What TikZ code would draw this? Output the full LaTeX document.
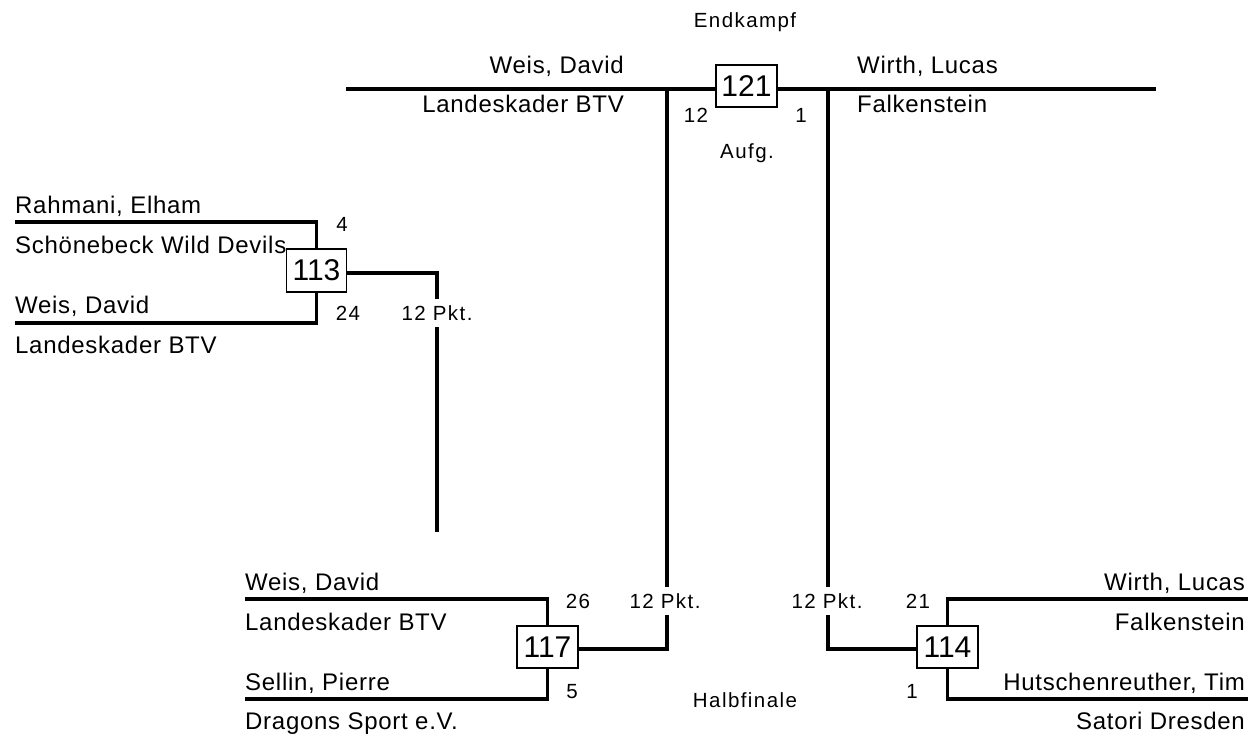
\documentclass[tikz,border=0pt]{standalone}
\usepackage{fontspec}
\setmainfont{Liberation Sans}
\newfontfamily\namefont[LetterSpace=3]{Liberation Sans}
\newfontfamily\smallfont[LetterSpace=7]{Liberation Sans}
\begin{document}
\begin{tikzpicture}[x=1pt,y=-1pt,
 wire/.style={line width=3.5pt},
 mbox/.style={draw, line width=1.1pt, fill=white, minimum width=61pt, minimum height=42pt, inner sep=0pt, font=\fontsize{30}{34}\selectfont},
 nm/.style={inner sep=0pt, font=\namefont\fontsize{24}{28}\selectfont},
 sm/.style={inner sep=0pt, font=\smallfont\fontsize{20.5}{24}\selectfont, anchor=base},
 gaplabel/.style={sm, text height=14pt, text depth=0pt, inner ysep=7pt}]
\useasboundingbox (0,0) rectangle (1252,738);

% ---------- final ----------
\node[sm] (endk) at (745,28) {Endkampf};
\coordinate (tl) at (346,89);
\coordinate (tr) at (1156,89);
\draw[wire] (tl) -- (tr);
\node[nm, anchor=base east] (fn1) at (624,74) {Weis, David};
\node[nm, anchor=base east] (fc1) at (624,113) {Landeskader BTV};
\node[nm, anchor=base west] (fn2) at (857,74) {Wirth, Lucas};
\node[nm, anchor=base west] (fc2) at (857,113) {Falkenstein};
\node[sm] (fs1) at (696,123) {12};
\node[sm] (fs2) at (801,123) {1};
\node[sm] (aufg) at (747,159) {Aufg.};

% ---------- 113 ----------
\coordinate (a1) at (15,222);
\coordinate (a2) at (15,323);
\node[nm, anchor=base west] (an1) at (15,214) {Rahmani, Elham};
\node[nm, anchor=base west] (ac1) at (15,253) {Schönebeck Wild Devils};
\node[nm, anchor=base west] (an2) at (15,313) {Weis, David};
\node[nm, anchor=base west] (ac2) at (15,353) {Landeskader BTV};
\node[mbox, minimum width=60pt, minimum height=43pt] (b113) at (316.5,270.5) {113};
\draw[wire] (a1) -- (a1 -| b113) -- (b113.north);
\draw[wire] (a2) -- (a2 -| b113) -- (b113.south);
\node[sm] (as1) at (342,231) {4};
\node[sm] (as2) at (348,320) {24};
\node[gaplabel] (ap) at (437,320) {12 Pkt.};
\coordinate (ac) at (437,273);
\coordinate (ae) at (437,532);
\draw[wire] (b113.east |- ac) -- (ac) -- (ac |- ap.north);
\draw[wire] (ac |- ap.south) -- (ae);

% ---------- 117 ----------
\coordinate (c1) at (245,599);
\coordinate (c2) at (245,699);
\node[nm, anchor=base west] (cn1) at (245,590) {Weis, David};
\node[nm, anchor=base west] (cc1) at (245,630) {Landeskader BTV};
\node[nm, anchor=base west] (cn2) at (245,690) {Sellin, Pierre};
\node[nm, anchor=base west] (cc2) at (245,729) {Dragons Sport e.V.};
\node[mbox] (b117) at (547.5,647) {117};
\draw[wire] (c1) -- (c1 -| b117) -- (b117.north);
\draw[wire] (c2) -- (c2 -| b117) -- (b117.south);
\node[sm] (cs1) at (578,608) {26};
\node[sm] (cs2) at (572,698) {5};
\node[gaplabel] (cp) at (665,608) {12 Pkt.};
\coordinate (cv) at (667,89);
\coordinate (cb) at (667,649);
\draw[wire] (cv) -- (cv |- cp.north);
\draw[wire] (cv |- cp.south) -- (cb) -- (cb -| b117.east);

% ---------- 114 ----------
\coordinate (d1) at (1248,599);
\coordinate (d2) at (1248,699);
\node[nm, anchor=base east] (dn1) at (1245,590) {Wirth, Lucas};
\node[nm, anchor=base east] (dc1) at (1245,630) {Falkenstein};
\node[nm, anchor=base east] (dn2) at (1245,690) {Hutschenreuther, Tim};
\node[nm, anchor=base east] (dc2) at (1245,729) {Satori Dresden};
\node[mbox] (b114) at (947.5,647) {114};
\draw[wire] (d1) -- (d1 -| b114) -- (b114.north);
\draw[wire] (d2) -- (d2 -| b114) -- (b114.south);
\node[sm] (ds1) at (918,608) {21};
\node[sm] (ds2) at (912,698) {1};
\node[gaplabel] (dp) at (827,608) {12 Pkt.};
\coordinate (dv) at (828,89);
\coordinate (db) at (828,649);
\draw[wire] (dv) -- (dv |- dp.north);
\draw[wire] (dv |- dp.south) -- (db) -- (db -| b114.west);

\node[sm] (halb) at (745,707) {Halbfinale};

% final box on top
\node[mbox] (b121) at (746.5,86) {121};
\end{tikzpicture}
\end{document}
